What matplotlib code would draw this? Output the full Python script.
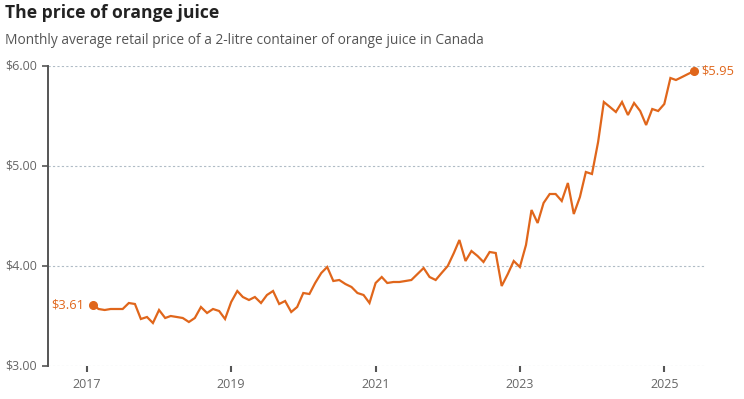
import matplotlib
matplotlib.use("Agg")
import matplotlib.pyplot as plt
import matplotlib.dates as mdates
import matplotlib.transforms as mtransforms
import pandas as pd

# monthly average price, Feb 2017 to Jun 2025
months = pd.date_range("2017-02-01", "2025-06-01", freq="MS")
price = [
    3.61, 3.57, 3.56, 3.57, 3.57, 3.57, 3.63, 3.62, 3.47, 3.49, 3.43,
    3.56, 3.48, 3.50, 3.49, 3.48, 3.44, 3.48, 3.59, 3.53, 3.57, 3.55, 3.47,
    3.64, 3.75, 3.69, 3.66, 3.69, 3.63, 3.71, 3.75, 3.62, 3.65, 3.54, 3.59,
    3.73, 3.72, 3.83, 3.93, 3.99, 3.85, 3.86, 3.82, 3.79, 3.73, 3.71, 3.63,
    3.83, 3.89, 3.83, 3.84, 3.84, 3.85, 3.86, 3.92, 3.98, 3.89, 3.86, 3.93,
    4.00, 4.13, 4.26, 4.05, 4.15, 4.10, 4.04, 4.14, 4.13, 3.80, 3.92, 4.05,
    3.99, 4.21, 4.56, 4.43, 4.63, 4.72, 4.72, 4.65, 4.83, 4.52, 4.69, 4.94,
    4.92, 5.24, 5.64, 5.59, 5.54, 5.64, 5.51, 5.63, 5.55, 5.41, 5.57, 5.55,
    5.62, 5.88, 5.86, 5.89, 5.92, 5.95,
]
yticks = [3, 4, 5, 6]
ytick_labels = ["$3.00", "$4.00", "$5.00", "$6.00"]
xtick_years = [2017, 2019, 2021, 2023, 2025]

orange = "#e0661b"
grey = "#666666"

plt.rcParams["font.family"] = ["Open Sans", "DejaVu Sans"]

fig = plt.figure(figsize=(7.44, 3.99), dpi=100)
ax = fig.add_axes([48 / 744, 1 - 366 / 399, (705 - 48) / 744, 300 / 399])

ax.plot(months, price, color=orange, lw=1.6, solid_joinstyle="miter")
ax.plot([months[0], months[-1]], [price[0], price[-1]], "o", color=orange, ms=5.5)

ax.annotate(f"${price[0]:.2f}", (months[0], price[0]), xytext=(-6, 0),
            textcoords="offset points", ha="right", va="center",
            color=orange, fontsize=9.3)
ax.annotate(f"${price[-1]:.2f}", (months[-1], price[-1]), xytext=(5, 0),
            textcoords="offset points", ha="left", va="center",
            color=orange, fontsize=9.3)

ax.set_ylim(3, 6)
ax.set_xlim(pd.Timestamp("2016-06-18"), pd.Timestamp("2025-07-26"))

# y labels sit at the figure's left edge, on the gridlines
ylab_tf = mtransforms.blended_transform_factory(fig.transFigure, ax.transData)
ax.set_yticks(yticks)
ax.set_yticklabels([])
for v, lab in zip(yticks, ytick_labels):
    ax.text(5 / 744, v, lab, transform=ylab_tf, ha="left", va="center",
            fontsize=9, color=grey)
    ax.axhline(v, color="#b0bcc6", lw=0.8, ls=(0, (2, 2)), zorder=0)

ax.set_xticks([pd.Timestamp(f"{y}-01-01") for y in xtick_years])
ax.xaxis.set_major_formatter(mdates.DateFormatter("%Y"))
ax.tick_params(axis="x", length=4, width=1.5, color="#555555", labelcolor=grey,
               labelsize=9, pad=5)
ax.tick_params(axis="y", length=4, width=1.2, color="#555555")

for side in ["top", "right", "bottom"]:
    ax.spines[side].set_visible(False)
ax.spines["left"].set_color("#555555")
ax.spines["left"].set_linewidth(1.4)

fig.text(5 / 744, 1 - 13 / 399, "The price of orange juice", fontsize=12.6,
         fontweight="bold", color="#222222", va="center", ha="left")
fig.text(5 / 744, 1 - 41 / 399,
         "Monthly average retail price of a 2-litre container of orange juice in Canada",
         fontsize=9.9, color="#555555", va="center", ha="left")

fig.savefig("out.png", dpi=100)
